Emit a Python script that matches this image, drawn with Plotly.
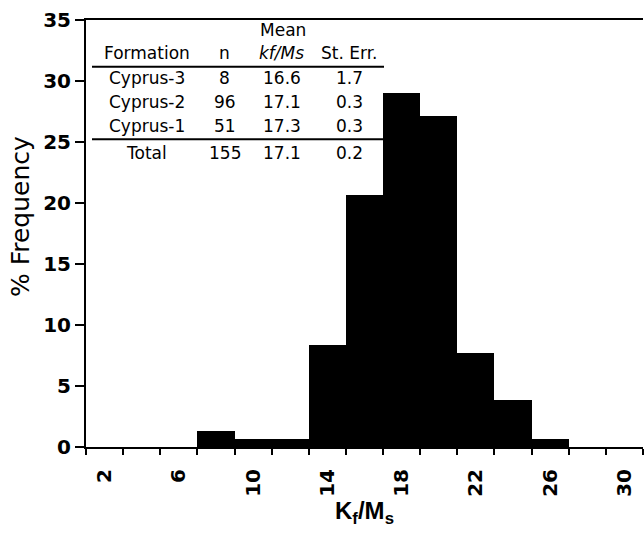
import plotly.graph_objects as go

# ---- data ----
bin_centers = [8, 10, 12, 14, 16, 18, 20, 22, 24, 26]
pct_frequency = [1.29, 0.65, 0.65, 8.39, 20.65, 29.03, 27.10, 7.74, 3.87, 0.65]
bin_width = 2
x_tick_labels = [2, 6, 10, 14, 18, 22, 26, 30]
x_minor_ticks = list(range(1, 32, 2))
y_ticks = [0, 5, 10, 15, 20, 25, 30, 35]

formations = ["Cyprus-3", "Cyprus-2", "Cyprus-1"]
n_values = [8, 96, 51]
mean_values = ["16.6", "17.1", "17.3"]
se_values = ["1.7", "0.3", "0.3"]
total_row = ["Total", "155", "17.1", "0.2"]

# ---- layout geometry (pixels) ----
W, H = 644, 535
L, R, T, B = 86, 643, 20, 447


def px(x):
    return (x - L) / (R - L)


def py(y):
    return (B - y) / (B - T)


fig = go.Figure()
fig.add_trace(go.Bar(
    x=bin_centers, y=pct_frequency, width=bin_width,
    marker=dict(color="black", line=dict(width=0)),
    showlegend=False, hoverinfo="skip",
))

TICKFONT = dict(family="DejaVu Sans", size=20, color="black", weight="bold")

fig.update_layout(
    width=W, height=H,
    margin=dict(l=L, r=W - R, t=T, b=H - B, pad=0, autoexpand=False),
    paper_bgcolor="white", plot_bgcolor="white",
    bargap=0,
    xaxis=dict(
        range=[1, 31], tickmode="array", tickvals=x_tick_labels,
        ticktext=[str(v) for v in x_tick_labels],
        ticks="", tickangle=-90, tickfont=TICKFONT,
        ticklabelstandoff=12, automargin=False,
        minor=dict(tickmode="array", tickvals=x_minor_ticks, ticks="outside",
                   ticklen=6, tickwidth=2, tickcolor="black", showgrid=False),
        showline=True, linecolor="black", linewidth=2, mirror=True,
        showgrid=False, zeroline=False,
        title=dict(text="K<sub>f</sub>/M<sub>s</sub>", standoff=4,
                   font=dict(family="Liberation Sans", size=24, color="black",
                             weight="bold")),
    ),
    yaxis=dict(
        range=[0, 35], tickmode="array", tickvals=y_ticks,
        ticks="outside", ticklen=9, tickwidth=2, tickcolor="black",
        tickfont=TICKFONT, automargin=False,
        showline=True, linecolor="black", linewidth=2,
        showgrid=False, zeroline=False,
    ),
)

# y-axis title placed to match reference position
fig.add_annotation(x=21, y=py(217), xref="paper", yref="paper",
                   text="% Frequency", textangle=-90, showarrow=False,
                   font=dict(family="DejaVu Sans", size=25, color="black"),
                   xanchor="center", yanchor="middle")
fig.layout.annotations[-1].x = (21 - L) / (R - L)

# ---- inset table ----
TF = dict(family="DejaVu Sans", size=17, color="black")
col_x = [146.7, 224.5, 281.7, 349.3]


def txt(x, y, s):
    fig.add_annotation(x=px(x), y=py(y), xref="paper", yref="paper", text=s,
                       showarrow=False, font=TF, xanchor="center", yanchor="middle")


txt(283.3, 30, "Mean")
for cx, s in zip(col_x, ["Formation", "n", "<i>kf/Ms</i>", "St. Err."]):
    txt(cx, 53, s)
row_y = [78.3, 101.7, 126]
for yy, f, n, m, e in zip(row_y, formations, n_values, mean_values, se_values):
    for cx, s in zip(col_x, [f, str(n), m, e]):
        txt(cx, yy, s)
for cx, s in zip(col_x, total_row):
    txt(cx, 153.3, s)

for yy in [66.7, 139.3]:
    fig.add_shape(type="line", xref="paper", yref="paper",
                  x0=px(92), x1=px(384), y0=py(yy), y1=py(yy),
                  line=dict(color="black", width=2))

fig.write_html("out.html", config={"displayModeBar": False},
               post_script="document.body.style.margin='0';document.body.style.padding='0';")
